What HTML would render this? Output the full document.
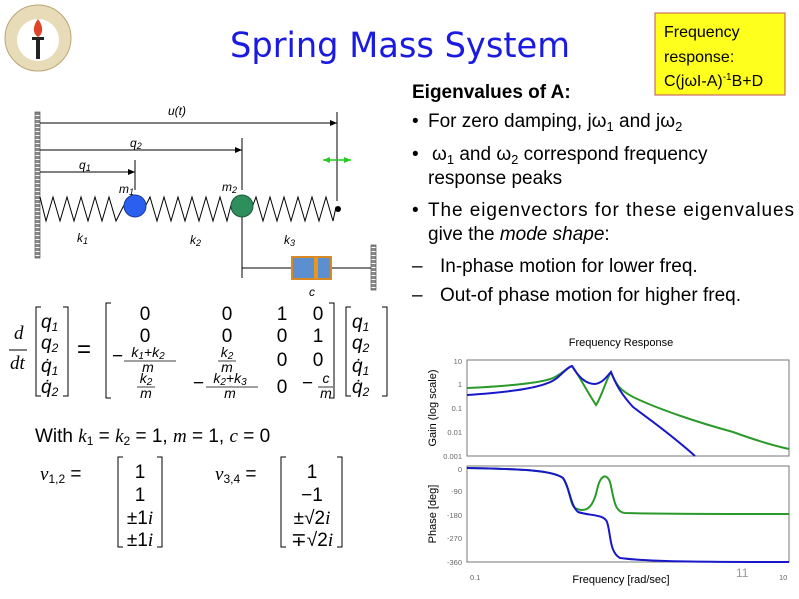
<!DOCTYPE html>
<html><head><meta charset="utf-8"><style>
html,body{margin:0;padding:0;background:#fff;}
svg{display:block;}
text{font-family:"Liberation Sans",sans-serif;}
.m{font-family:"Liberation Serif",serif;font-style:italic;}
.r{font-family:"Liberation Sans",sans-serif;}
</style></head><body>
<svg width="799" height="599" viewBox="0 0 799 599" xmlns="http://www.w3.org/2000/svg">
<defs>
<pattern id="hatch" width="6" height="4" patternUnits="userSpaceOnUse"><rect width="6" height="4" fill="#fff"/><rect width="6" height="3" fill="#888"/></pattern>
<marker id="ar" markerWidth="8" markerHeight="8" refX="7" refY="4" orient="auto" markerUnits="userSpaceOnUse"><path d="M0,1 L7,4 L0,7 z" fill="#000"/></marker>
<marker id="ga" markerWidth="8" markerHeight="8" refX="7" refY="4" orient="auto-start-reverse" markerUnits="userSpaceOnUse"><path d="M0,1 L7,4 L0,7 z" fill="#2c2"/></marker>
</defs>
<!-- logo -->
<circle cx="38" cy="38" r="33" fill="#e8dcb8" stroke="#b9a676"/>
<circle cx="38" cy="40" r="21" fill="#fff"/>
<path d="M38,19 C32,27 33,34 38,37 C43,34 44,27 38,19z" fill="#e0452a"/>
<rect x="32" y="37" width="12" height="3" fill="#222"/>
<rect x="36" y="40" width="4" height="19" fill="#222"/>
<!-- title -->
<text x="400" y="57" font-size="35" fill="#1a1ae0" text-anchor="middle" style="font-family:'DejaVu Sans',sans-serif" textLength="340" lengthAdjust="spacingAndGlyphs">Spring Mass System</text>
<!-- freq box -->
<rect x="655" y="13" width="130" height="82" fill="#ffff1e" stroke="#c0504d" stroke-width="1"/>
<text x="664" y="37" font-size="16">Frequency</text>
<text x="664" y="62" font-size="16">response:</text>
<text x="664" y="86" font-size="16">C(jωI-A)<tspan font-size="10" dy="-6">-1</tspan><tspan dy="6">B+D</tspan></text>
<!-- right text -->
<g font-size="19" fill="#000">
<text x="412" y="98" font-weight="bold">Eigenvalues of A:</text>
<text x="412" y="127">•</text><text x="428" y="127">For zero damping,  jω<tspan font-size="13" dy="4">1</tspan><tspan dy="-4"> and jω</tspan><tspan font-size="13" dy="4">2</tspan></text>
<text x="412" y="160">•</text><text x="432" y="160">ω<tspan font-size="13" dy="4">1</tspan><tspan dy="-4"> and ω</tspan><tspan font-size="13" dy="4">2</tspan><tspan dy="-4"> correspond frequency</tspan></text>
<text x="428" y="184">response peaks</text>
<text x="412" y="216">•</text><text x="428" y="216" textLength="366" lengthAdjust="spacing">The eigenvectors for these eigenvalues</text>
<text x="428" y="240">give the <tspan font-style="italic">mode shape</tspan>:</text>
<text x="412" y="272">–</text><text x="440" y="272">In-phase motion for lower freq.</text>
<text x="412" y="301">–</text><text x="440" y="301">Out-of phase motion for higher freq.</text>
</g>
<!-- mechanical diagram -->
<rect x="35" y="112" width="5" height="146" fill="url(#hatch)" stroke="#555" stroke-width="0.7"/>
<rect x="371" y="245" width="5" height="45" fill="url(#hatch)" stroke="#555" stroke-width="0.7"/>
<g stroke="#000" stroke-width="1" fill="none">
<line x1="40" y1="123" x2="337" y2="123" marker-end="url(#ar)"/>
<line x1="337" y1="112" x2="337" y2="201"/>
<line x1="40" y1="150" x2="242" y2="150" marker-end="url(#ar)"/>
<line x1="242" y1="138" x2="242" y2="190"/>
<line x1="40" y1="172" x2="135" y2="172" marker-end="url(#ar)"/>
<line x1="135" y1="160" x2="135" y2="190"/>
<polyline points="40,197 46,221 53,197 60,221 67,197 74,221 81,197 88,221 95,197 102,221 109,197 116,221 124,205"/>
<polyline points="146,205 150,197 157,221 164,197 171,221 178,197 185,221 192,197 199,221 206,197 213,221 220,197 227,221 231,205"/>
<polyline points="253,205 256,197 263,221 270,197 277,221 284,197 291,221 298,197 305,221 312,197 319,221 326,197 333,221 336,207"/>
<line x1="242" y1="216" x2="242" y2="278"/>
<line x1="242" y1="268" x2="371" y2="268"/>
</g>
<line x1="323" y1="160" x2="351" y2="160" stroke="#2c2" stroke-width="1.5" marker-start="url(#ga)" marker-end="url(#ga)"/>
<circle cx="135" cy="206" r="11" fill="#2b5ff0" stroke="#1a3a99"/>
<circle cx="242" cy="206" r="11" fill="#2e8f5c" stroke="#1b5a38"/>
<circle cx="338" cy="209" r="3" fill="#000"/>
<rect x="292" y="257" width="39" height="22" fill="#5b8fd0" stroke="#d88a20" stroke-width="2"/>
<rect x="314" y="257" width="4" height="22" fill="#e8961e"/>
<g font-size="12" font-style="italic">
<text x="168" y="115">u(t)</text>
<text x="130" y="147">q<tspan font-size="9" dy="2">2</tspan></text>
<text x="79" y="169">q<tspan font-size="9" dy="2">1</tspan></text>
<text x="119" y="193">m<tspan font-size="9" dy="2">1</tspan></text>
<text x="222" y="191">m<tspan font-size="9" dy="2">2</tspan></text>
<text x="77" y="242">k<tspan font-size="9" dy="2">1</tspan></text>
<text x="190" y="244">k<tspan font-size="9" dy="2">2</tspan></text>
<text x="284" y="244">k<tspan font-size="9" dy="2">3</tspan></text>
<text x="309" y="296">c</text>
</g>
<!-- matrix equation -->
<g font-size="19" fill="#000">
<text x="14" y="339" class="m">d</text>
<line x1="9" y1="350" x2="27" y2="350" stroke="#000"/>
<text x="10" y="369" class="m">dt</text>
<path d="M41,307 H36 V396 H41 M63,307 H68 V396 H63" stroke="#000" fill="none"/>
<g class="m"><text x="41" y="328">q<tspan font-size="12" dy="3" class="r">1</tspan></text>
<text x="41" y="349">q<tspan font-size="12" dy="3" class="r">2</tspan></text>
<text x="41" y="372">q̇<tspan font-size="12" dy="3" class="r">1</tspan></text>
<text x="41" y="393">q̇<tspan font-size="12" dy="3" class="r">2</tspan></text></g>
<text x="77" y="357" font-size="24">=</text>
<path d="M111,303 H106 V398 H111 M329,303 H334 V398 H329" stroke="#000" fill="none"/>
<g text-anchor="middle">
<text x="145" y="320">0</text><text x="227" y="320">0</text><text x="282" y="320">1</text><text x="318" y="320">0</text>
<text x="145" y="342">0</text><text x="227" y="342">0</text><text x="282" y="342">0</text><text x="318" y="342">1</text>
<text x="282" y="366">0</text><text x="318" y="366">0</text>
<text x="282" y="393">0</text>
</g>
<g font-size="14" class="m" text-anchor="middle">
<text x="148" y="357">k<tspan font-size="10" dy="2" class="r">1</tspan><tspan dy="-2" class="r">+</tspan>k<tspan font-size="10" dy="2" class="r">2</tspan></text>
<line x1="124" y1="361" x2="176" y2="361" stroke="#000" stroke-width="0.8"/>
<text x="148" y="372">m</text>
<text x="227" y="357">k<tspan font-size="10" dy="2" class="r">2</tspan></text>
<line x1="218" y1="361" x2="236" y2="361" stroke="#000" stroke-width="0.8"/>
<text x="227" y="372">m</text>
<text x="146" y="383">k<tspan font-size="10" dy="2" class="r">2</tspan></text>
<line x1="137" y1="387" x2="155" y2="387" stroke="#000" stroke-width="0.8"/>
<text x="146" y="398">m</text>
<text x="230" y="383">k<tspan font-size="10" dy="2" class="r">2</tspan><tspan dy="-2" class="r">+</tspan>k<tspan font-size="10" dy="2" class="r">3</tspan></text>
<line x1="206" y1="387" x2="258" y2="387" stroke="#000" stroke-width="0.8"/>
<text x="230" y="398">m</text>
<text x="326" y="383">c</text>
<line x1="318" y1="387" x2="333" y2="387" stroke="#000" stroke-width="0.8"/>
<text x="326" y="398">m</text>
</g>
<text x="112" y="362">−</text><text x="193" y="389">−</text><text x="302" y="389">−</text>
<path d="M351,307 H346 V396 H351 M382,307 H387 V396 H382" stroke="#000" fill="none"/>
<g class="m"><text x="352" y="328">q<tspan font-size="12" dy="3" class="r">1</tspan></text>
<text x="352" y="349">q<tspan font-size="12" dy="3" class="r">2</tspan></text>
<text x="352" y="372">q̇<tspan font-size="12" dy="3" class="r">1</tspan></text>
<text x="352" y="393">q̇<tspan font-size="12" dy="3" class="r">2</tspan></text></g>
<text x="35" y="442">With <tspan class="m">k</tspan><tspan font-size="12" dy="3">1</tspan><tspan dy="-3"> = </tspan><tspan class="m">k</tspan><tspan font-size="12" dy="3">2</tspan><tspan dy="-3"> = 1, </tspan><tspan class="m">m</tspan> = 1, <tspan class="m">c</tspan> = 0</text>
<text x="40" y="480"><tspan class="m">v</tspan><tspan font-size="12" dy="3">1,2</tspan><tspan dy="-3"> =</tspan></text>
<path d="M123,457 H118 V547 H123 M157,457 H162 V547 H157" stroke="#000" fill="none"/>
<g text-anchor="middle"><text x="140" y="478">1</text><text x="140" y="501">1</text><text x="140" y="524">±1<tspan class="m">i</tspan></text><text x="140" y="546">±1<tspan class="m">i</tspan></text></g>
<text x="215" y="480"><tspan class="m">v</tspan><tspan font-size="12" dy="3">3,4</tspan><tspan dy="-3"> =</tspan></text>
<path d="M286,457 H281 V547 H286 M337,457 H342 V547 H337" stroke="#000" fill="none"/>
<g text-anchor="middle"><text x="312" y="478">1</text><text x="312" y="501">−1</text><text x="312" y="524">±√2<tspan class="m">i</tspan></text><text x="312" y="546">∓√2<tspan class="m">i</tspan></text></g>
</g>
<!-- plot -->
<text x="621" y="346" font-size="11" text-anchor="middle">Frequency Response</text>
<rect x="467" y="360" width="322" height="96" fill="#fff" stroke="#777"/>
<rect x="467" y="466" width="322" height="96" fill="#fff" stroke="#777"/>
<g font-size="7.5" fill="#666" text-anchor="end">
<text x="462" y="364">10</text><text x="462" y="387">1</text><text x="462" y="411">0.1</text><text x="462" y="435">0.01</text><text x="462" y="459">0.001</text>
<text x="462" y="472">0</text><text x="462" y="494">-90</text><text x="462" y="518">-180</text><text x="462" y="541">-270</text><text x="462" y="565">-360</text>
</g>
<g font-size="7.5" fill="#666"><text x="470" y="580">0.1</text><text x="779" y="580">10</text></g>
<text x="621" y="583" font-size="11" text-anchor="middle">Frequency [rad/sec]</text>
<text x="736" y="577" font-size="12" fill="#999">11</text>
<text transform="translate(436,408) rotate(-90)" font-size="11" text-anchor="middle">Gain (log scale)</text>
<text transform="translate(436,514) rotate(-90)" font-size="11" text-anchor="middle">Phase [deg]</text>
<g fill="none" stroke-width="2">
<path d="M467,388 C510,386 545,383 555,377 C563,373 568,367 572,366 C577,372 585,388 596,405 C601,398 606,380 611,372 C616,385 620,390 633,397 C660,410 700,423 733,432 C755,440 775,446 789,449" stroke="#2a9a2a"/>
<path d="M467,395 C510,392 545,388 557,378 C564,372 568,367 572,366 C578,376 585,384 595,384 C603,383 607,376 611,372 C616,385 622,395 633,407 C650,420 668,432 695,456" stroke="#1818c8"/>
<path d="M467,468 C520,469 552,470 563,478 C570,488 570,505 575,508 C583,512 592,512 597,490 C600,476 606,472 610,482 C614,498 614,512 625,513 C660,514 720,514 789,514" stroke="#2a9a2a"/>
<path d="M467,468 C520,469 552,470 563,478 C570,488 570,505 578,512 C590,516 604,514 607,522 C611,533 609,552 620,558 C650,562 720,562 789,562" stroke="#1818c8"/>
</g>
</svg>
</body></html>
